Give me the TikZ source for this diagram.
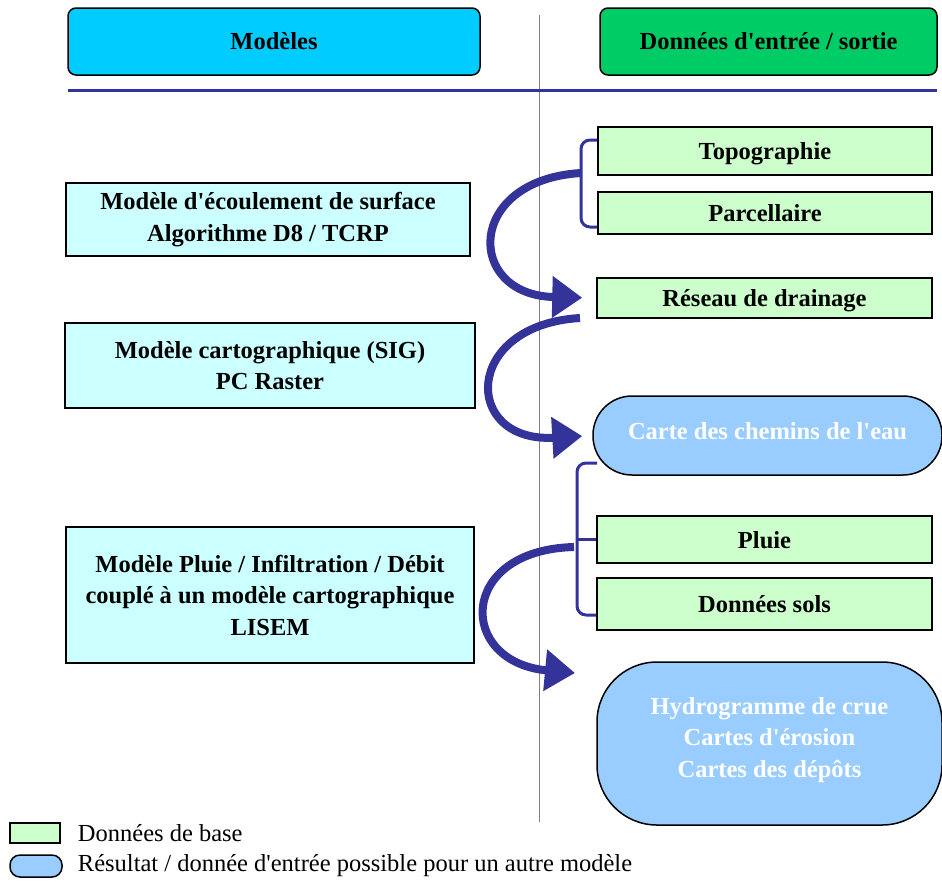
\documentclass[tikz,border=0pt]{standalone}
\usepackage{fontspec}
\setmainfont{Liberation Serif}
\usepackage{xcolor}
\usepackage{tikz}
\usetikzlibrary{positioning,arrows.meta}
\definecolor{hdmod}{HTML}{00CCFF}
\definecolor{hddon}{HTML}{00CC66}
\definecolor{modlt}{HTML}{CCFFFF}
\definecolor{baselt}{HTML}{CCFFCC}
\definecolor{reslt}{HTML}{99CCFF}
\definecolor{arrw}{HTML}{333399}
\definecolor{sep}{HTML}{808080}
\newcommand{\ap}{\textquotesingle}

\begin{document}
\begin{tikzpicture}[x=1pt,y=-1pt,every node/.style={font=\fontsize{24.5}{31.5}\selectfont\bfseries,align=center,inner sep=0pt},
  hd/.style={draw=black,line width=1.5pt,rounded corners=8pt,minimum height=67pt},
  md/.style={draw=black,line width=1.5pt,fill=modlt},
  db/.style={draw=black,line width=1.5pt,fill=baselt,text depth=0pt},
  rs/.style={draw=black,line width=1.5pt,fill=reslt,text=white},
  lgt/.style={font=\fontsize{24.5}{28}\selectfont},
  brk/.style={line width=3pt,draw=arrw,rounded corners=9pt},
  ca/.style={line width=8pt,draw=arrw,-{Triangle[length=30pt,width=40pt]}}]
  \useasboundingbox (0,0) rectangle (942,884);
  % en-tetes
  \node[hd,fill=hdmod,minimum width=412pt] (modeles) at (274,41.5) {Modèles};
  \node[hd,fill=hddon,minimum width=337pt] (donnees) at (768.5,41.5) {Données d\ap entrée / sortie};
  \draw[sep,line width=1pt] (539,15) -- (539,822);
  \draw[arrw,line width=3pt] (68,90) -- (937,90);
  % modeles
  \node[md,minimum width=404pt,minimum height=73pt] (ecoul) at (268,219.5) {Modèle d\ap écoulement de surface\\Algorithme D8 / TCRP};
  \node[md,minimum width=410pt,minimum height=85pt] (sig) at (270,365.5) {Modèle cartographique (SIG)\\PC Raster};
  \node[md,minimum width=408pt,minimum height=136pt] (lisem) at (270,595) {Modèle Pluie / Infiltration / Débit\\couplé à un modèle cartographique\\LISEM};
  % donnees
  \node[db,minimum width=334pt,minimum height=48pt] (topo) at (765,151) {Topographie};
  \node[db,minimum width=334pt,minimum height=42pt] (parc) at (765,213) {Parcellaire};
  \node[db,minimum width=335pt,minimum height=40pt] (reseau) at (764.5,298) {Réseau de drainage};
  \node[rs,rounded corners=39pt,minimum width=349pt,minimum height=79pt,text depth=10pt] (chemins) at (767.5,435.5) {Carte des chemins de l\ap eau};
  \node[db,minimum width=335pt,minimum height=47pt] (pluie) at (764.5,539.5) {Pluie};
  \node[db,minimum width=335pt,minimum height=52pt] (sols) at (764.5,604) {Données sols};
  \node[rs,rounded corners=60pt,minimum width=345pt,minimum height=163pt,text depth=13pt] (hydro) at (769.5,743.5) {Hydrogramme de crue\\Cartes d\ap érosion\\Cartes des dépôts};
  % accolades
  \coordinate (b1) at (581,173);
  \coordinate (b2t) at (597,463);
  \coordinate (b2) at (577,539.5);
  \coordinate (s2) at (580,318);
  \coordinate (s3) at (574,547);
  \draw[brk] ([yshift=11pt]topo.west) -| (b1) |- ([yshift=-14pt]parc.west);
  \draw[brk] (b2t) -| (b2) |- ([yshift=-11pt]sols.west);
  \draw[brk] (b2) -- (pluie.west);
  % fleches courbes
  \draw[ca,shorten >=14pt] (b1) .. controls (465,180) and (465,295) .. (reseau.west);
  \draw[ca,shorten >=10pt] (s2) .. controls (462,325) and (462,443) .. (chemins.west);
  \draw[ca] (s3) .. controls (457,550) and (457,662) .. (575,673);
  % legende
  \node[db,minimum width=50pt,minimum height=20pt] (legb) at (35,833) {};
  \node[rs,rounded corners=10pt,minimum width=52pt,minimum height=22pt] (legr) at (36,866) {};
  \node[lgt,right=17pt of legb] (legbt) {Données de base};
  \node[lgt,right=15pt of legr] (legrt) {Résultat / donnée d\ap entrée possible pour un autre modèle};
\end{tikzpicture}
\end{document}
